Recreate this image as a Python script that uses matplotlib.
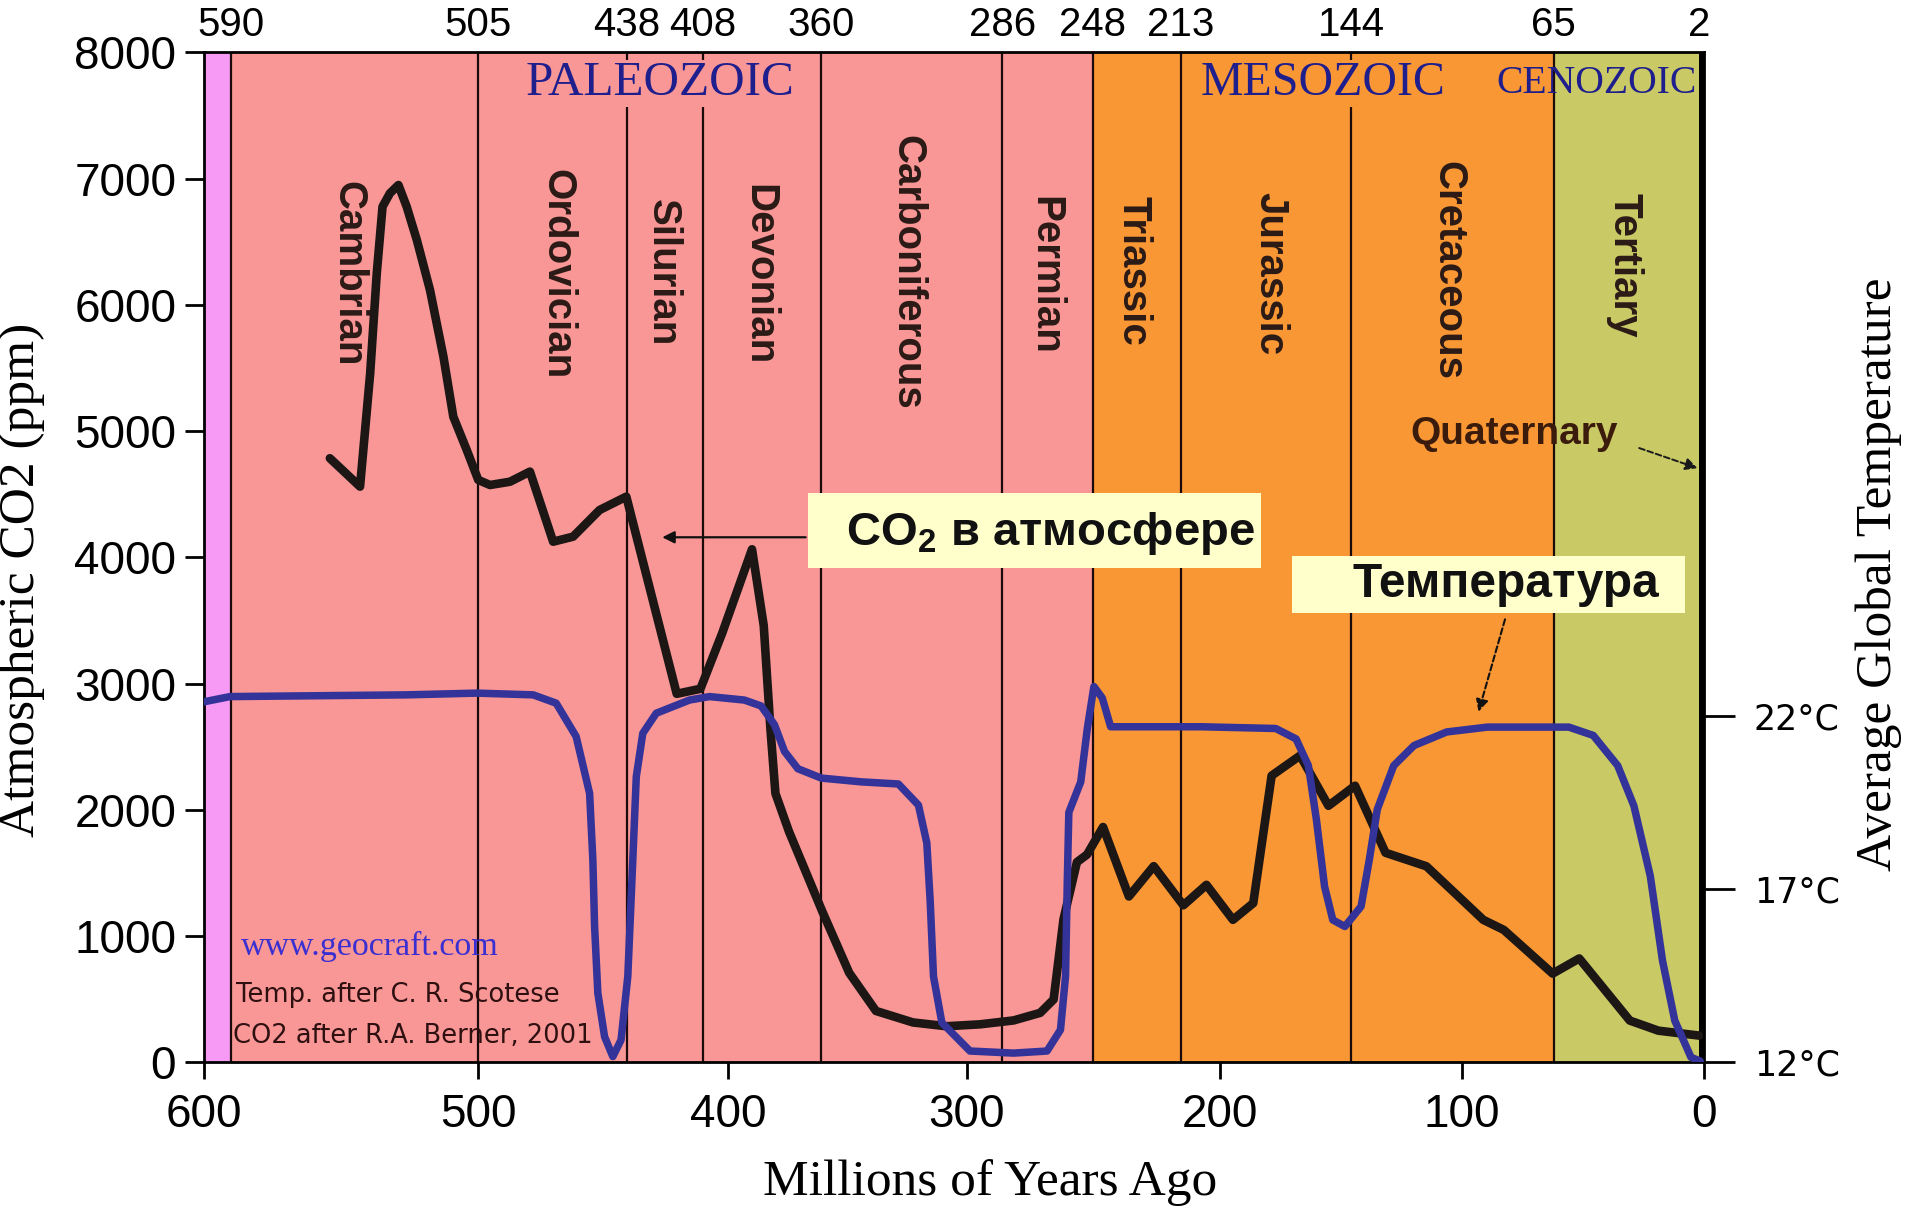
import numpy as np
import matplotlib
matplotlib.use("Agg")
import matplotlib.pyplot as plt
from matplotlib.patches import Rectangle

# ---------------- data ----------------
co2_age = [554.1, 543.1, 539.4, 537.0, 534.9, 532.2, 529.1, 526.1, 522.4, 517.6,
           512.7, 509.1, 504.2, 500.0, 495.3, 487.3, 479.3, 470.0, 462.0, 451.4,
           440.7, 420.5, 411.0, 402.3, 389.9, 385.0, 382.2, 380.1, 374.4, 360.4,
           349.2, 338.0, 322.5, 308.5, 294.8, 281.5, 271.0, 265.7, 261.8, 256.5,
           252.5, 246.2, 236.0, 226.2, 214.5, 205.4, 194.7, 186.3, 178.7, 166.9,
           155.2, 144.2, 131.6, 114.7, 91.2, 82.7, 62.5, 51.5, 30.6, 18.8, 1.9]
co2_ppm = [4786, 4561, 5459, 6251, 6779, 6885, 6950, 6779, 6515, 6119,
           5591, 5115, 4851, 4614, 4574, 4600, 4680, 4125, 4165, 4376,
           4482, 2920, 2960, 3400, 4065, 3460, 2644, 2131, 1828, 1193,
           710, 408, 317, 287, 302, 333, 393, 499, 1134, 1587,
           1647, 1865, 1315, 1555, 1245, 1407, 1130, 1262, 2272, 2431,
           2033, 2192, 1661, 1554, 1130, 1050, 704, 824, 332, 252, 213]

temp_age = [600, 590.5, 526, 500.6, 478, 468.8, 460.8, 455.4, 454.1, 453.4,
            452.1, 449.4, 446.1, 442.8, 440.1, 438.1, 436.7, 434.1, 428.7, 415.4,
            407.4, 393.1, 386.1, 380.5, 376.3, 370.7, 360.9, 344.0, 328.6, 320.2,
            316.7, 315.3, 313.9, 310.4, 298.7, 281.5, 268.3, 263.0, 261.0, 260.3,
            259.7, 255.0, 252.4, 249.8, 246.5, 243.2, 228.6, 207.5, 177.0, 168.6,
            163.5, 160.2, 156.8, 153.4, 148.4, 141.7, 138.3, 135.0, 128.2, 119.8,
            106.3, 89.5, 55.8, 45.7, 35.6, 28.9, 22.1, 17.1, 12.0, 5.3, 1.5]
temp_c = [22.40, 22.55, 22.60, 22.65, 22.60, 22.36, 21.40, 19.76, 17.84, 15.92,
          14.00, 12.74, 12.17, 12.65, 14.48, 17.84, 20.24, 21.49, 22.07, 22.45,
          22.55, 22.45, 22.28, 21.74, 20.97, 20.47, 20.20, 20.09, 20.03, 19.42,
          18.33, 16.67, 14.48, 13.15, 12.33, 12.27, 12.33, 12.94, 14.48, 17.22,
          19.21, 20.09, 21.63, 22.84, 22.51, 21.68, 21.68, 21.68, 21.63, 21.33,
          20.56, 19.01, 17.07, 16.11, 15.92, 16.50, 17.85, 19.30, 20.56, 21.14,
          21.53, 21.67, 21.67, 21.43, 20.56, 19.40, 17.37, 14.95, 13.21, 12.15, 12.04]

boundary_age = [590, 500, 440.6, 410.1, 361, 286, 250.3, 215.5, 145.7, 62.1, 2]
boundary_label = ['590', '505', '438', '408', '360', '286', '248', '213', '144', '65', '2']

band_start = [600, 590, 250.3, 62.1, 2]
band_end = [590, 250.3, 62.1, 2, 0]
band_color = ['#F79AF5', '#F99696', '#FA9735', '#C9C965', '#000000']

period_names = ['Cambrian', 'Ordovician', 'Silurian', 'Devonian', 'Carboniferous',
                'Permian', 'Triassic', 'Jurassic', 'Cretaceous', 'Tertiary']
period_x = [547.5, 468.5, 425.9, 386.7, 324.8, 268.9, 234.2, 179.3, 105.6, 32.8]
period_top = [6983, 7079, 6838, 6958, 7350, 6866, 6866, 6896, 7137, 6886]

era_names = ['PALEOZOIC', 'MESOZOIC', 'CENOZOIC']
era_x = [427.4, 157.6, 44.4]
era_y = [7756, 7756, 7756]

x_ticks = [600, 500, 400, 300, 200, 100, 0]
y_ticks = [0, 1000, 2000, 3000, 4000, 5000, 6000, 7000, 8000]
t_ticks = [12, 17, 22]

# non-uniform age axis of the original drawing (calibration knots)
SCALE_AGE = np.array([0, 100, 200, 300, 400, 500, 600], float)
SCALE_POS = np.array([0, 198, 396, 603.5, 799, 1003.4, 1228], float)


def _pw(v, xs, ys):
    v = np.asarray(v, float)
    out = np.interp(v, xs, ys)
    s0 = (ys[1] - ys[0]) / (xs[1] - xs[0])
    s1 = (ys[-1] - ys[-2]) / (xs[-1] - xs[-2])
    out = np.where(v < xs[0], ys[0] + (v - xs[0]) * s0, out)
    out = np.where(v > xs[-1], ys[-1] + (v - xs[-1]) * s1, out)
    return out


def fwd(v):
    return _pw(v, SCALE_AGE, SCALE_POS)


def inv(v):
    return _pw(v, SCALE_POS, SCALE_AGE)


NARROW = ['Liberation Sans Narrow', 'Liberation Sans', 'DejaVu Sans']
SERIF = ['Liberation Serif', 'DejaVu Serif']
plt.rcParams['mathtext.fontset'] = 'custom'
plt.rcParams['mathtext.rm'] = 'Liberation Sans:bold'
plt.rcParams['mathtext.bf'] = 'Liberation Sans:bold'

fig = plt.figure(figsize=(19.15, 12.09), dpi=100)
ax = fig.add_axes([0.1065, 0.1212, 0.7832, 0.8354])
ax.set_xscale('function', functions=(fwd, inv))
ax.set_xlim(600, 0)
ax.set_ylim(0, 8000)

for s, e, c in zip(band_start, band_end, band_color):
    ax.axvspan(s, e, color=c, lw=0, zorder=0)
for b in boundary_age[:-1]:
    ax.axvline(b, color='#1a0a0a', lw=1.6, zorder=1)

ax.plot(co2_age, co2_ppm, color='#1c1614', lw=6.2, solid_joinstyle='round',
        solid_capstyle='round', zorder=4)

for name, x, y in zip(period_names, period_x, period_top):
    ax.text(x, y, name, rotation=270, ha='center', va='top', fontsize=29,
            fontweight='bold', family=NARROW, color='#2b1a16', zorder=2)

era_bg = ['#F99696', '#FA9735', None]
era_size = [35.5, 34.5, 28.5]
for name, x, y, bg, fs in zip(era_names, era_x, era_y, era_bg, era_size):
    kw = {}
    if bg:
        kw['bbox'] = dict(facecolor=bg, edgecolor='none', pad=1)
    ax.text(x, y, name, ha='center', va='center', fontsize=fs, family=SERIF,
            color='#1e1e8c', zorder=3, **kw)

# top boundary labels
for b, lab in zip(boundary_age, boundary_label):
    t = ax.text(b, 8000 + 70, lab, ha='center', va='bottom', fontsize=29,
                family=NARROW, color='black', zorder=5)
    t.set_clip_on(False)

ax.text(78.3, 4981, 'Quaternary', ha='center', va='center', fontsize=28,
        fontweight='bold', family=NARROW, color='#3b1c0c', zorder=3)
ax.annotate('', xy=(1.5, 4700), xytext=(27.8, 4874),
            arrowprops=dict(arrowstyle='-|>', color='#1a1a1a', lw=1.4,
                            ls=(0, (3, 1.5)), mutation_scale=18), zorder=3)

# annotation boxes
ax.add_patch(Rectangle((0.403, 0.4897), 0.302, 0.0738, transform=ax.transAxes,
                       facecolor='#FFFFCC', edgecolor='none', zorder=6))
ax.text(0.701, 0.524, 'CO$_\\mathbf{2}$ в атмосфере', transform=ax.transAxes,
        ha='right', va='center', fontsize=34, fontweight='bold',
        family=['Liberation Sans', 'DejaVu Sans'], color='#111111', zorder=7)
ax.annotate('', xy=(0.3037, 0.52), xytext=(0.403, 0.52), xycoords='axes fraction',
            textcoords='axes fraction',
            arrowprops=dict(arrowstyle='-|>', color='#111111', lw=1.6,
                            mutation_scale=18), zorder=6)

ax.add_patch(Rectangle((0.7256, 0.445), 0.2622, 0.0568, transform=ax.transAxes,
                       facecolor='#FFFFCC', edgecolor='none', zorder=6))
ax.text(0.970, 0.4728, 'Температура', transform=ax.transAxes,
        ha='right', va='center', fontsize=34.5, fontweight='bold',
        family=['Liberation Sans', 'DejaVu Sans'], color='#111111', zorder=7)
ax.annotate('', xy=(0.8493, 0.3446), xytext=(0.868, 0.4414), xycoords='axes fraction',
            textcoords='axes fraction',
            arrowprops=dict(arrowstyle='-|>', color='#111111', lw=1.5,
                            ls=(0, (3, 1.5)), mutation_scale=18), zorder=6)

# credits
ax.text(0.0244, 0.1149, 'www.geocraft.com', transform=ax.transAxes, ha='left',
        va='center', fontsize=24.5, family=SERIF, color='#3a2fd0', zorder=3)
ax.text(0.0212, 0.0665, 'Temp. after C. R. Scotese', transform=ax.transAxes,
        ha='left', va='center', fontsize=18.5, family=['DejaVu Sans'],
        color='#2e1010', zorder=3)
ax.text(0.0195, 0.0266, 'CO2 after R.A. Berner, 2001', transform=ax.transAxes,
        ha='left', va='center', fontsize=18.5, family=['DejaVu Sans'],
        color='#2e1010', zorder=3)

# axes styling
ax.set_xticks(x_ticks)
ax.set_xticklabels([str(v) for v in x_ticks])
ax.set_yticks(y_ticks)
ax.set_yticklabels([str(v) for v in y_ticks])
ax.xaxis.set_minor_locator(matplotlib.ticker.NullLocator())
ax.tick_params(axis='x', direction='out', length=12, width=2, pad=10, labelsize=33)
ax.tick_params(axis='y', direction='out', length=14, width=2, pad=6, labelsize=33)
for lab in ax.get_xticklabels() + ax.get_yticklabels():
    lab.set_family(NARROW)
for sp in ['left', 'bottom', 'top']:
    ax.spines[sp].set_linewidth(2)
ax.spines['right'].set_visible(False)

ax2 = ax.twinx()
ax2.set_ylim(12, 12 + 8000 / 274.7)
ax2.plot(temp_age, temp_c, color='#33339a', lw=5.4, solid_joinstyle='round',
         solid_capstyle='round', zorder=5)
ax2.set_yticks(t_ticks)
ax2.set_yticklabels([f'{t}°C' for t in t_ticks])
ax2.tick_params(axis='y', direction='out', length=22, width=2, pad=14, labelsize=25)
for lab in ax2.get_yticklabels():
    lab.set_family(['DejaVu Sans'])
for sp in ['left', 'bottom', 'top']:
    ax2.spines[sp].set_visible(False)
ax2.spines['right'].set_linewidth(2)

fig.text(0.517, 0.022, 'Millions of Years Ago', ha='center', va='center',
         fontsize=37, family=SERIF)
fig.text(0.0115, 0.52, 'Atmospheric CO2 (ppm)', ha='center', va='center',
         rotation=90, fontsize=37, family=SERIF)
fig.text(0.981, 0.525, 'Average Global Temperature', ha='center', va='center',
         rotation=90, fontsize=37, family=SERIF)

fig.savefig('out.png', dpi=100)
